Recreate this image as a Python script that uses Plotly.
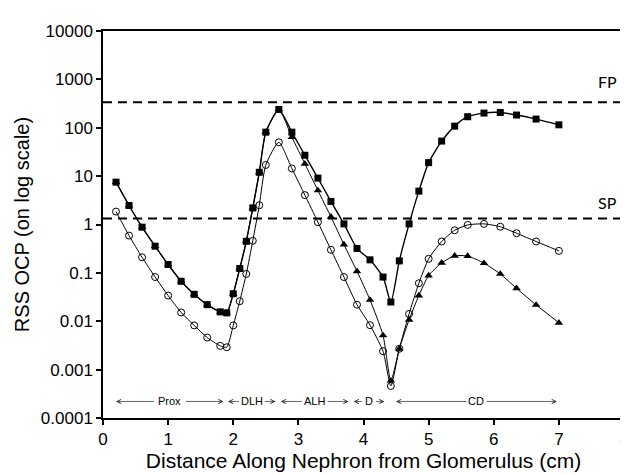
import math
import plotly.graph_objects as go

# ---------------- data ----------------
distance = [0.2, 0.4, 0.6, 0.8, 1.0, 1.2, 1.4, 1.6, 1.8, 1.9, 2.0, 2.1, 2.2, 2.3, 2.4, 2.5, 2.7,
            2.9, 3.1, 3.3, 3.5, 3.7, 3.9, 4.1, 4.3, 4.42, 4.55, 4.7, 4.85, 5.0, 5.2, 5.4, 5.6,
            5.85, 6.1, 6.35, 6.65, 7.0]

squares = [7.5, 2.47, 0.88, 0.356, 0.149, 0.067, 0.036, 0.022, 0.0156, 0.0149, 0.037, 0.123,
           0.45, 2.2, 12, 81, 239,
           81, 27, 9.1, 3.0, 1.03, 0.32, 0.186, 0.082, 0.025, 0.177, 1.03, 4.9, 19, 53, 108,
           169, 201, 207, 183, 151, 115]

circles = [1.85, 0.59, 0.21, 0.082, 0.034, 0.0152, 0.0082, 0.0046, 0.0031, 0.0029, 0.0082,
           0.026, 0.095, 0.46, 2.5, 17, 50,
           14.4, 4.05, 1.12, 0.30, 0.082, 0.022, 0.0083, 0.0024, 0.00046, 0.0027, 0.0142,
           0.061, 0.195, 0.445, 0.76, 0.98, 1.03, 0.90, 0.66, 0.445, 0.285]

triangles = [7.5, 2.47, 0.88, 0.356, 0.149, 0.067, 0.036, 0.022, 0.0156, 0.0149, 0.037, 0.123,
             0.45, 2.2, 12, 81, 239,
             64, 18, 5.05, 1.44, 0.385, 0.108, 0.0276, 0.0051, 0.00059, 0.0027, 0.0107, 0.034,
             0.088, 0.161, 0.225, 0.222, 0.159, 0.095, 0.048, 0.0218, 0.0093]

fp_level = 335
sp_level = 1.33

tick_vals = [1e-4, 1e-3, 1e-2, 1e-1, 1, 10, 100, 1000, 10000]
tick_text = ["0.0001", "0.001", "0.01", "0.1", "1", "10", "100", "1000", "10000"]

segment_names = ["Prox", "DLH", "ALH", "D", "CD"]
segment_start = [0.2, 1.92, 2.73, 3.85, 4.5]
segment_end = [1.85, 2.65, 3.77, 4.32, 6.97]
segment_label_level = 0.00022

# ---------------- figure ----------------
fig = go.Figure()

line_common = dict(shape="spline", smoothing=0.6, color="black")

fig.add_trace(go.Scatter(
    x=distance, y=triangles, mode="lines+markers",
    line=dict(width=1, **line_common),
    marker=dict(symbol="triangle-up", size=7.5, color="black"),
    showlegend=False))

fig.add_trace(go.Scatter(
    x=distance, y=circles, mode="lines+markers",
    line=dict(width=1, **line_common),
    marker=dict(symbol="circle-open", size=7, color="black", line=dict(width=1)),
    showlegend=False))

fig.add_trace(go.Scatter(
    x=distance, y=squares, mode="lines+markers",
    line=dict(width=1.4, **line_common),
    marker=dict(symbol="square", size=7, color="black"),
    showlegend=False))

# reference threshold lines
for lvl, name, shift in [(fp_level, "FP", 9), (sp_level, "SP", 5)]:
    fig.add_shape(type="line", xref="paper", x0=0, x1=1, yref="y", y0=lvl, y1=lvl,
                  line=dict(color="black", width=2, dash="9px,6px"))
    fig.add_annotation(xref="paper", x=1, xanchor="right", xshift=-5,
                       yref="y", y=math.log10(lvl), yanchor="bottom", yshift=shift,
                       text=name, showarrow=False,
                       font=dict(family="Lato", size=16, color="black"))

# nephron segment labels with arrows
lab_y = math.log10(segment_label_level)
for name, s, e in zip(segment_names, segment_start, segment_end):
    mid = (s + e) / 2
    half = len(name) * 0.045 + 0.04
    fig.add_annotation(x=mid, y=lab_y, xref="x", yref="y", text=name, showarrow=False,
                       font=dict(family="Liberation Sans", size=11, color="black"))
    for head, tail in [(s, mid - half), (e, mid + half)]:
        fig.add_annotation(x=head, y=lab_y, ax=tail, ay=lab_y, xref="x", yref="y",
                           axref="x", ayref="y", text="", showarrow=True,
                           arrowhead=5, arrowsize=1.2, arrowwidth=0.7,
                           arrowcolor="#222", standoff=0, startstandoff=0)

axis_common = dict(showline=True, linecolor="black", linewidth=1.5, mirror=True,
                   ticks="outside", ticklen=5, tickwidth=1.5, tickcolor="black",
                   showgrid=False, zeroline=False,
                   tickfont=dict(family="Liberation Sans", size=17, color="black"))

fig.update_layout(
    width=628, height=474,
    margin=dict(l=95, r=7, t=23, b=64),
    paper_bgcolor="white", plot_bgcolor="white",
    xaxis=dict(range=[0, 8], dtick=1, tick0=0,
               title=dict(text="Distance Along Nephron from Glomerulus (cm)",
                          font=dict(family="Liberation Sans", size=21, color="black"),
                          standoff=3),
               **axis_common),
    yaxis=dict(type="log", range=[-4, 4], tickvals=tick_vals, ticktext=tick_text,
               title=dict(text="RSS OCP (on log scale)",
                          font=dict(family="Liberation Sans", size=20, color="black"),
                          standoff=6),
               **axis_common),
)

fig.write_html("out.html")
